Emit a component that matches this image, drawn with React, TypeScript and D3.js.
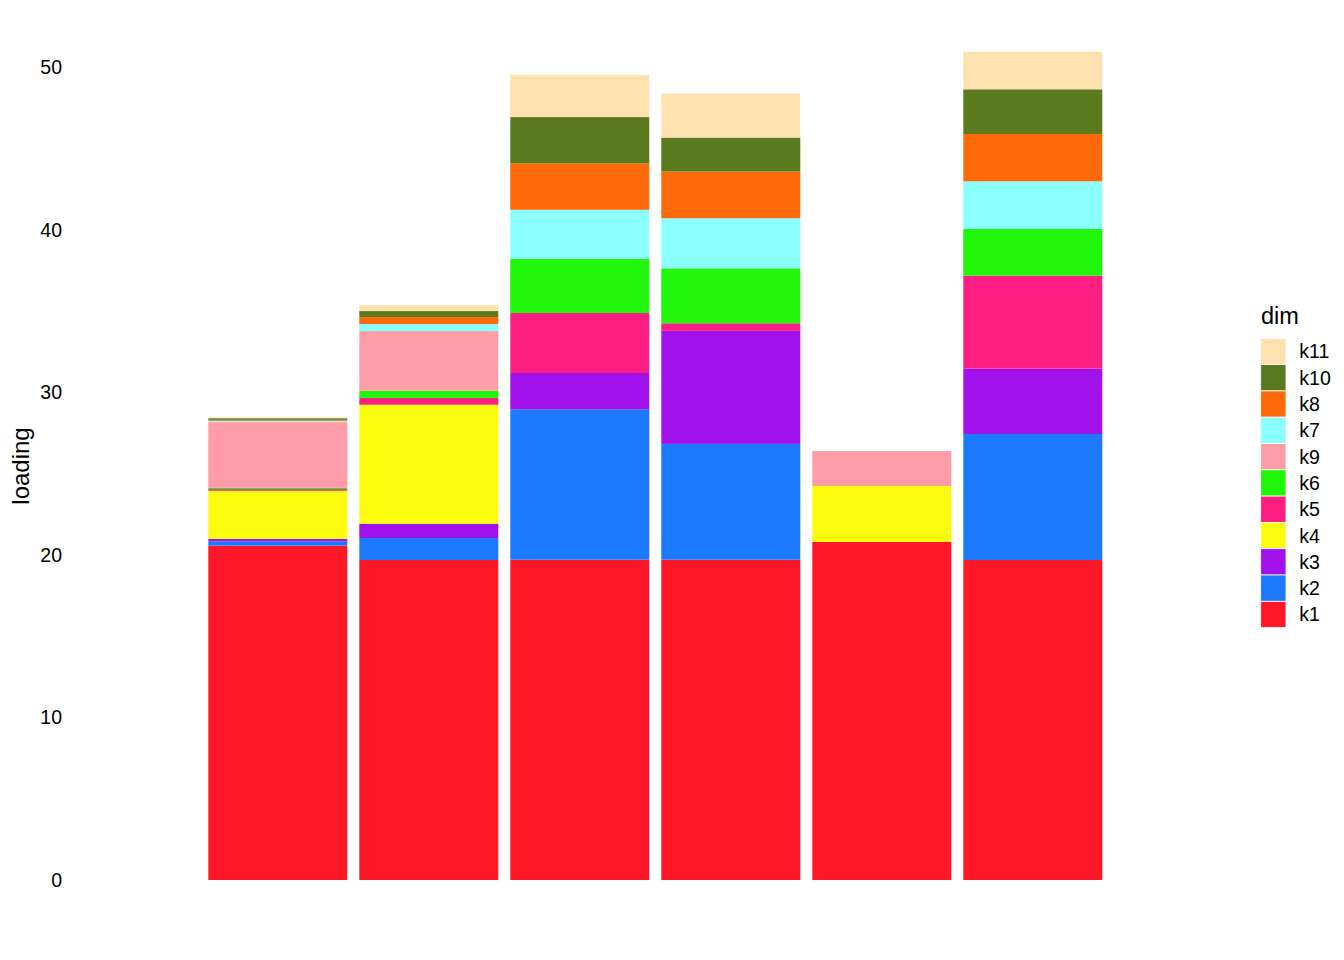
import * as d3 from "d3";

// samples (x labels are blank in the original)
const samples = ["s1", "s2", "s3", "s4", "s5", "s6"];

// stacking order, bottom to top
const dims = ["k1", "k2", "k3", "k4", "k5", "k6", "k9", "k7", "k8", "k10", "k11"];
// legend order, top to bottom
const legendDims = ["k11", "k10", "k8", "k7", "k9", "k6", "k5", "k4", "k3", "k2", "k1"];

const k1 = [20.56, 19.68, 19.7, 19.7, 20.79, 19.68];
const k2 = [0.27, 1.35, 9.25, 7.12, 0, 7.75];
const k3 = [0.14, 0.88, 2.23, 6.95, 0, 4.02];
const k4 = [2.97, 7.32, 0, 0, 3.44, 0];
const k5 = [0.1, 0.41, 3.69, 0.47, 0, 5.72];
const k6 = [0.08, 0.45, 3.32, 3.38, 0, 2.87];
const k9 = [4.04, 3.67, 0, 0, 2.15, 0];
const k7 = [0.08, 0.43, 3.03, 3.08, 0, 2.93];
const k8 = [0.06, 0.43, 2.85, 2.87, 0, 2.91];
const k10 = [0.1, 0.37, 2.85, 2.09, 0, 2.75];
const k11 = [0.06, 0.37, 2.6, 2.71, 0, 2.31];

const yTicks = [0, 10, 20, 30, 40, 50];

const colors: Record<string, string> = {
  k1: "#FE1727",
  k2: "#1C79FE",
  k3: "#A111EB",
  k4: "#FEFC0E",
  k5: "#FE1D80",
  k6: "#20F60A",
  k9: "#FE9CA8",
  k7: "#8BFEFE",
  k8: "#FE6A0A",
  k10: "#5A7A1D",
  k11: "#FDE1AE",
};

const seriesValues: Record<string, number[]> = { k1, k2, k3, k4, k5, k6, k9, k7, k8, k10, k11 };

const font = "Arial, 'Liberation Sans', Helvetica, sans-serif";

export default function App() {
  const width = 1344;
  const height = 960;

  const rows = samples.map((s, i) => {
    const r: Record<string, any> = { sample: s };
    dims.forEach((d) => (r[d] = seriesValues[d][i]));
    return r;
  });

  const stacked = d3.stack<Record<string, any>>().keys(dims)(rows);

  const x = d3
    .scaleBand<string>()
    .domain(samples)
    .range([202.3, 1108.3])
    .paddingInner(12 / 151)
    .paddingOuter(6 / 151);

  const y = d3.scaleLinear().domain([0, 50]).range([880, 67]);

  const keyH = 26.3;
  const legendTop = 338.3;

  return (
    <svg
      width={width}
      height={height}
      style={{ position: "absolute", left: 0, top: 0, background: "#fff" }}
      fontFamily={font}
    >
      <rect width={width} height={height} fill="#fff" />
      {stacked.map((layer) => (
        <g key={layer.key} fill={colors[layer.key]}>
          {layer.map((d, i) =>
            d[1] - d[0] > 0 ? (
              <rect
                key={i}
                x={x(samples[i])}
                width={x.bandwidth()}
                y={y(d[1])}
                height={y(d[0]) - y(d[1])}
              />
            ) : null
          )}
        </g>
      ))}

      {yTicks.map((t) => (
        <text
          key={t}
          x={62}
          y={y(t)}
          dy="0.36em"
          textAnchor="end"
          fontSize={19.5}
          fill="#000"
        >
          {t}
        </text>
      ))}

      <text
        transform={`translate(29,466) rotate(-90)`}
        textAnchor="middle"
        fontSize={24}
        fill="#000"
      >
        loading
      </text>

      <text x={1261} y={324} fontSize={23.5} fill="#000">
        dim
      </text>
      {legendDims.map((d, i) => (
        <g key={d} transform={`translate(1260.7,${legendTop + i * keyH})`}>
          <rect width={25.3} height={keyH} fill={colors[d]} stroke="#fff" strokeWidth={0.8} />
          <text x={38.6} y={keyH / 2} dy="0.36em" fontSize={19.5} fill="#000">
            {d}
          </text>
        </g>
      ))}
    </svg>
  );
}
